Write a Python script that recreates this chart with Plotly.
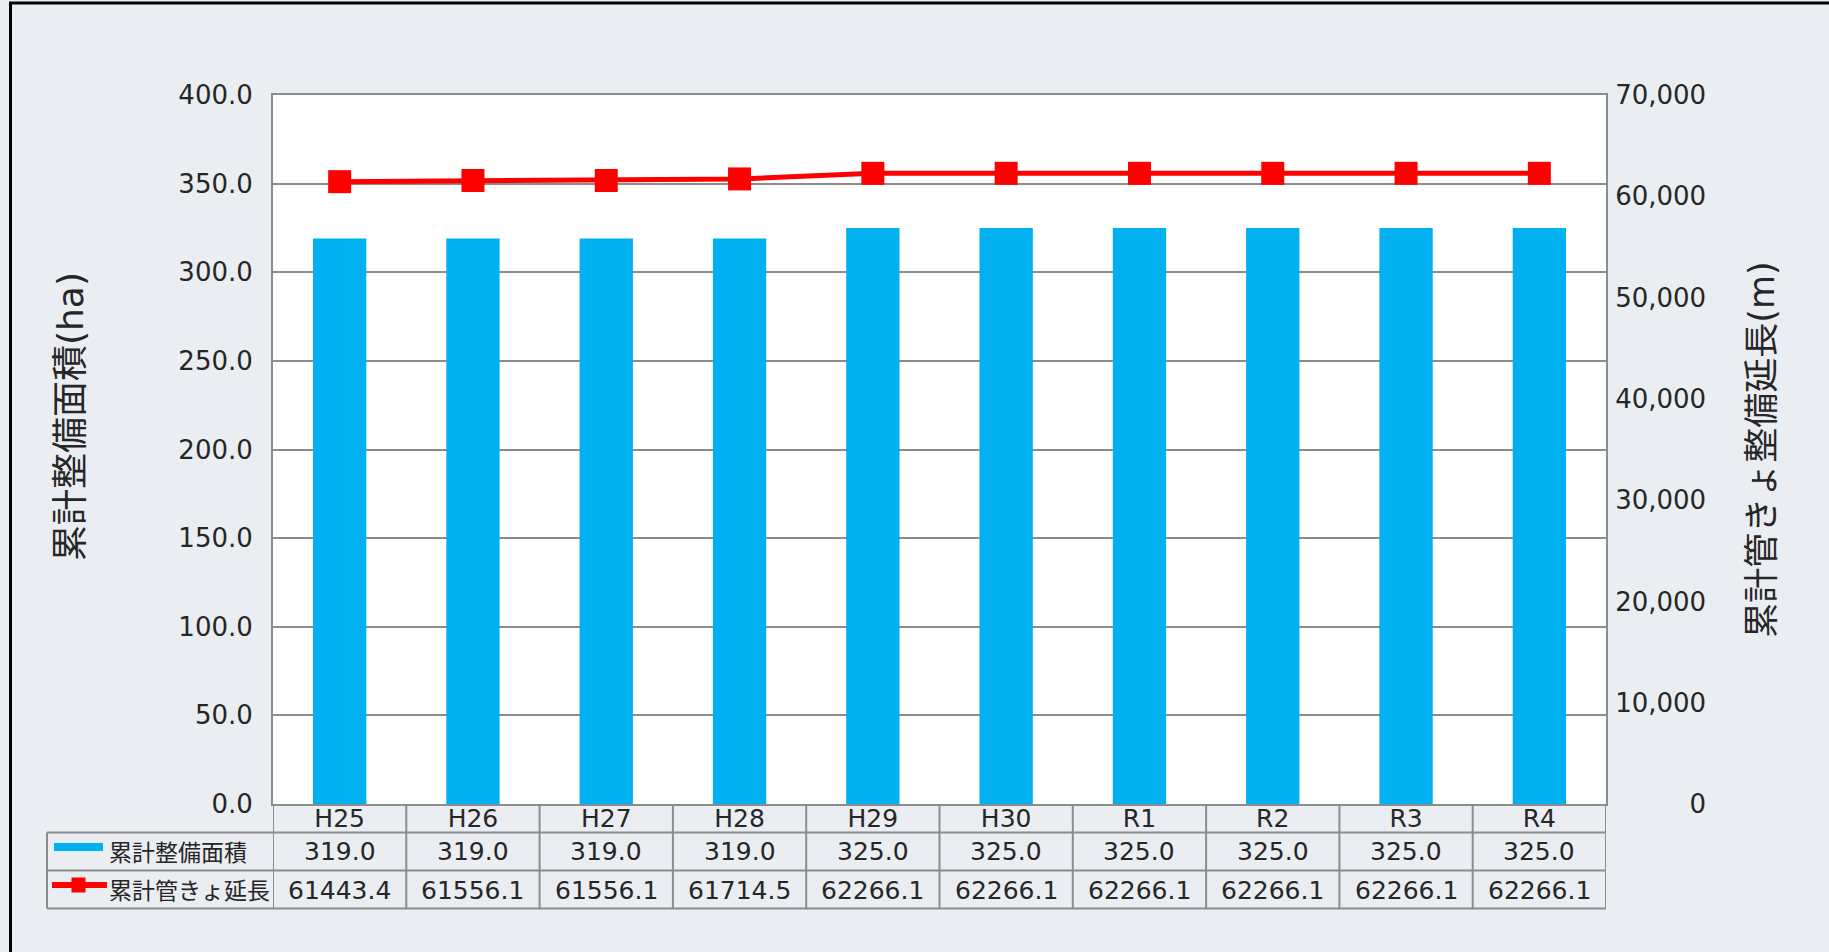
import plotly.graph_objects as go

# ---- data ----
categories = ["H25", "H26", "H27", "H28", "H29", "H30", "R1", "R2", "R3", "R4"]
area_ha = [319.0, 319.0, 319.0, 319.0, 325.0, 325.0, 325.0, 325.0, 325.0, 325.0]
pipe_m = [61443.4, 61556.1, 61556.1, 61714.5, 62266.1, 62266.1, 62266.1, 62266.1, 62266.1, 62266.1]
series_names = ["累計整備面積", "累計管きょ延長"]
left_title = "累計整備面積(ha)"
right_title = "累計管きょ整備延長(m)"
left_ticks = [0, 50, 100, 150, 200, 250, 300, 350, 400]
right_ticks = [0, 10000, 20000, 30000, 40000, 50000, 60000, 70000]

# ---- layout constants ----
W, H = 1829, 952
L, R, T, B = 273, 223, 95, 148
PW, PH = W - L - R, H - T - B
BG = "#EAEDF2"
GRID = "#8C8C8C"
TXT = "#262626"
FONT = "DejaVu Sans, Noto Sans CJK JP"
JFONT = "Noto Sans CJK JP"
BLUE = "#00B0F0"
RED = "#FF0000"


def xp(px):
    return (px - L) / PW


def yp(py):
    return (H - B - py) / PH


# right-aligned right tick labels using figure spaces
def fmt_right(v):
    s = f"{v:,}"
    if v == 0:
        s = "\u2007\u2007\u2007\u2007\u2008" + s
    return s


fig = go.Figure()
fig.add_trace(go.Bar(
    x=categories, y=area_ha, name=series_names[0],
    marker=dict(color=BLUE, line=dict(width=0)), yaxis="y",
))
fig.add_trace(go.Scatter(
    x=categories, y=pipe_m, name=series_names[1], mode="lines+markers",
    line=dict(color=RED, width=5),
    marker=dict(symbol="square", size=23, color=RED),
    yaxis="y2",
))

shapes = []
line_style = dict(color=GRID, width=2)
row_y = [832.5, 870.5, 908.5]
for ry in row_y:
    shapes.append(dict(type="line", xref="paper", yref="paper",
                       x0=xp(47), x1=xp(L + PW), y0=yp(ry), y1=yp(ry), line=line_style))
shapes.append(dict(type="line", xref="paper", yref="paper",
                   x0=xp(47), x1=xp(47), y0=yp(832.5), y1=yp(908.5), line=line_style))
for i in range(len(categories) + 1):
    shapes.append(dict(type="line", xref="x", yref="paper",
                       x0=i - 0.5, x1=i - 0.5, y0=yp(H - B), y1=yp(908.5), line=line_style))
# legend keys
shapes.append(dict(type="line", xref="paper", yref="paper",
                   x0=xp(54), x1=xp(103), y0=yp(847), y1=yp(847),
                   line=dict(color=BLUE, width=8)))
shapes.append(dict(type="line", xref="paper", yref="paper",
                   x0=xp(52), x1=xp(107), y0=yp(885), y1=yp(885),
                   line=dict(color=RED, width=6)))
shapes.append(dict(type="rect", xref="paper", yref="paper",
                   x0=xp(71.5), x1=xp(85.5), y0=yp(877.5), y1=yp(892.5),
                   fillcolor=RED, line=dict(width=0)))
# outer black frame (left & top)
shapes.append(dict(type="line", xref="paper", yref="paper",
                   x0=xp(10.5), x1=xp(10.5), y0=yp(2), y1=yp(H + 5),
                   line=dict(color="#000000", width=3)))
shapes.append(dict(type="line", xref="paper", yref="paper",
                   x0=xp(9), x1=xp(W + 5), y0=yp(3), y1=yp(3),
                   line=dict(color="#000000", width=3)))

annotations = []
for c, a, p in zip(categories, area_ha, pipe_m):
    annotations.append(dict(xref="x", yref="paper", x=c, y=yp(852), text=f"{a:.1f}",
                            showarrow=False, xanchor="center", yanchor="middle",
                            font=dict(family=FONT, size=25, color=TXT)))
    annotations.append(dict(xref="x", yref="paper", x=c, y=yp(890), text=f"{p:.1f}",
                            showarrow=False, xanchor="center", yanchor="middle",
                            font=dict(family=FONT, size=25, color=TXT)))
for name, ry in zip(series_names, [851, 889]):
    annotations.append(dict(xref="paper", yref="paper", x=xp(107), y=yp(ry), text=name,
                            showarrow=False, xanchor="left", yanchor="middle",
                            font=dict(family=JFONT, size=23, color=TXT)))
# left axis title (placed like the original, slightly above the axis centre)
annotations.append(dict(xref="paper", yref="paper", x=xp(70), y=yp(417), text=left_title,
                        textangle=-90, showarrow=False, xanchor="center", yanchor="middle",
                        font=dict(family=FONT, size=36, color=TXT)))

fig.update_layout(
    width=W, height=H,
    margin=dict(l=L, r=R, t=T, b=B, autoexpand=False),
    paper_bgcolor=BG, plot_bgcolor="#FFFFFF",
    showlegend=False,
    bargap=0.6,
    font=dict(family=FONT, size=26, color=TXT),
    xaxis=dict(type="category", range=[-0.5, len(categories) - 0.5],
               showgrid=False, showline=True, linecolor=GRID, linewidth=2, mirror=True,
               ticks="", ticklabelstandoff=-9,
               tickfont=dict(family=FONT, size=25, color=TXT)),
    yaxis=dict(range=[0, 400], tickvals=left_ticks,
               ticktext=[f"{v:.1f}" for v in left_ticks],
               showgrid=True, gridcolor=GRID, gridwidth=2,
               showline=True, linecolor=GRID, linewidth=2, zeroline=False,
               ticks="outside", ticklen=13, tickcolor="rgba(0,0,0,0)",
               tickfont=dict(family=FONT, size=26, color=TXT)),
    yaxis2=dict(range=[0, 70000], overlaying="y", side="right",
                tickvals=right_ticks, ticktext=[fmt_right(v) for v in right_ticks],
                showgrid=False, showline=True, linecolor=GRID, linewidth=2, zeroline=False,
                ticks="outside", ticklen=2, tickcolor="rgba(0,0,0,0)",
                tickfont=dict(family=FONT, size=26, color=TXT),
                title=dict(text=right_title, standoff=44,
                           font=dict(family=FONT, size=35, color=TXT))),
    shapes=shapes,
    annotations=annotations,
)

fig.write_html("out.html", config={"displayModeBar": False},
               post_script="document.body.style.margin='0';")
